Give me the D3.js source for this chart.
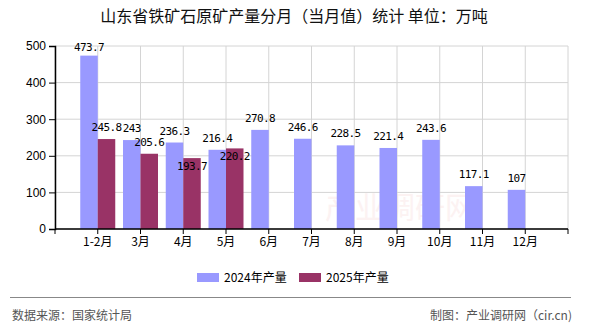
<!DOCTYPE html>
<html><head><meta charset="utf-8">
<script src="https://cdn.jsdelivr.net/npm/d3@7/dist/d3.min.js"></script>
<style>
html,body{margin:0;padding:0;background:#fff;}
svg{display:block;}
</style></head>
<body><div id="chart"></div>
<script>
const categories = ["1-2月","3月","4月","5月","6月","7月","8月","9月","10月","11月","12月"];
const values2024 = [473.7,243,236.3,216.4,270.8,246.6,228.5,221.4,243.6,117.1,107];
const values2025 = [245.8,205.6,193.7,220.2];
const yTicks = [0,100,200,300,400,500];
const seriesNames = ["2024年产量","2025年产量"];
const title = "山东省铁矿石原矿产量分月（当月值）统计 单位：万吨";
const sourceText = "数据来源：国家统计局";
const creditText = "制图：产业调研网（cir.cn)";

const W = 590, H = 330;
const colors = ["#9999ff","#993366"];
const cjk = "'Noto Sans CJK SC','Noto Sans',sans-serif";
const mono = "'DejaVu Sans Mono','Liberation Mono',monospace";

const svg = d3.select("#chart").append("svg").attr("width",W).attr("height",H);
const pL = 55, pR = 568, pT = 46, pB = 229;

const x = d3.scalePoint().domain(categories).range([pL,pR]).padding(1);
const y = d3.scaleLinear().domain([0,500]).range([pB,pT]);
const bw = 17.5;

// watermark
svg.append("text").attr("x",400).attr("y",218).attr("text-anchor","middle")
  .attr("font-family",cjk).attr("font-size",30).attr("fill","#fcf2f2").text("产业调研网");

// grid
const g = svg.append("g");
g.selectAll(".hg").data(yTicks).join("line")
  .attr("x1",pL).attr("x2",pR).attr("y1",d=>y(d)).attr("y2",d=>y(d))
  .attr("stroke","#d4d4d4").attr("stroke-width",1);
const vx = [pL, ...categories.map(c=>x(c)), pR];
g.selectAll(".vg").data(vx).join("line")
  .attr("x1",d=>d).attr("x2",d=>d).attr("y1",pT).attr("y2",pB)
  .attr("stroke","#d4d4d4").attr("stroke-width",1);

// bars
svg.append("g").selectAll("rect").data(values2024).join("rect")
  .attr("x",(d,i)=>x(categories[i])-bw).attr("width",bw)
  .attr("y",d=>y(d)).attr("height",d=>pB-y(d)).attr("fill",colors[0]);
svg.append("g").selectAll("rect").data(values2025).join("rect")
  .attr("x",(d,i)=>x(categories[i])).attr("width",bw)
  .attr("y",d=>y(d)).attr("height",d=>pB-y(d)).attr("fill",colors[1]);

// axes
const yAxis = d3.axisLeft(y).tickValues(yTicks).tickSize(6).tickPadding(3);
const ya = svg.append("g").attr("transform",`translate(${pL},0)`).call(yAxis);
ya.select(".domain").attr("stroke","#000").attr("stroke-width",1.5);
ya.selectAll("text").attr("font-family","'Liberation Sans',Arial,sans-serif").attr("font-size",12).attr("fill","#000");

svg.append("line").attr("x1",pL).attr("x2",pR).attr("y1",pB).attr("y2",pB)
  .attr("stroke","#000").attr("stroke-width",1.5);
svg.append("g").selectAll("line").data(vx).join("line")
  .attr("x1",d=>d).attr("x2",d=>d).attr("y1",pB).attr("y2",pB+5)
  .attr("stroke","#000").attr("stroke-width",1);
svg.append("g").selectAll("text").data(categories).join("text")
  .attr("x",d=>x(d)).attr("y",246).attr("text-anchor","middle")
  .attr("font-family",cjk).attr("font-size",12).attr("fill","#000").text(d=>d);

// data labels with simple collision avoidance
const labels = [];
values2024.forEach((v,i)=>{
  const cx = x(categories[i]) - bw/2;
  const cy = Math.max(y(v)-12, 47);
  labels.push({t:String(v),cx,cy,s:0});
});
values2025.forEach((v,i)=>{
  const cx = x(categories[i]) + bw/2;
  let cy = y(v)-12;
  const t = String(v);
  const hw = t.length*3, hh = 5;
  const hit = labels.filter(l=>l.s===0).some(l=>{
    const lw = l.t.length*3;
    return Math.abs(l.cx-cx) < hw+lw && Math.abs(l.cy-cy) < 2*hh;
  });
  if(hit) cy = y(v)+8;
  labels.push({t,cx,cy,s:1});
});
svg.append("g").selectAll("text").data(labels).join("text")
  .attr("x",d=>d.cx).attr("y",d=>d.cy+4).attr("text-anchor","middle")
  .attr("font-family",mono).attr("font-size",11).attr("letter-spacing","-0.6px")
  .attr("fill","#000").text(d=>d.t);

// title
svg.append("text").attr("x",294).attr("y",22).attr("text-anchor","middle")
  .attr("font-family",cjk).attr("font-size",16).attr("fill","#111").text(title);

// legend
const lg = svg.append("g");
const lx = [197,299];
seriesNames.forEach((n,i)=>{
  lg.append("rect").attr("x",lx[i]).attr("y",273).attr("width",22).attr("height",9).attr("fill",colors[i]);
  lg.append("text").attr("x",lx[i]+27).attr("y",282).attr("font-family",cjk).attr("font-size",12)
    .attr("fill","#000").text(n);
});

// footer
svg.append("line").attr("x1",10).attr("x2",571).attr("y1",297.5).attr("y2",297.5)
  .attr("stroke","#888").attr("stroke-width",1.2);
svg.append("text").attr("x",12).attr("y",320).attr("font-family",cjk).attr("font-size",12)
  .attr("fill","#555").text(sourceText);
svg.append("text").attr("x",572).attr("y",320).attr("text-anchor","end").attr("font-family",cjk).attr("font-size",12)
  .attr("fill","#555").text(creditText);
</script></body></html>
